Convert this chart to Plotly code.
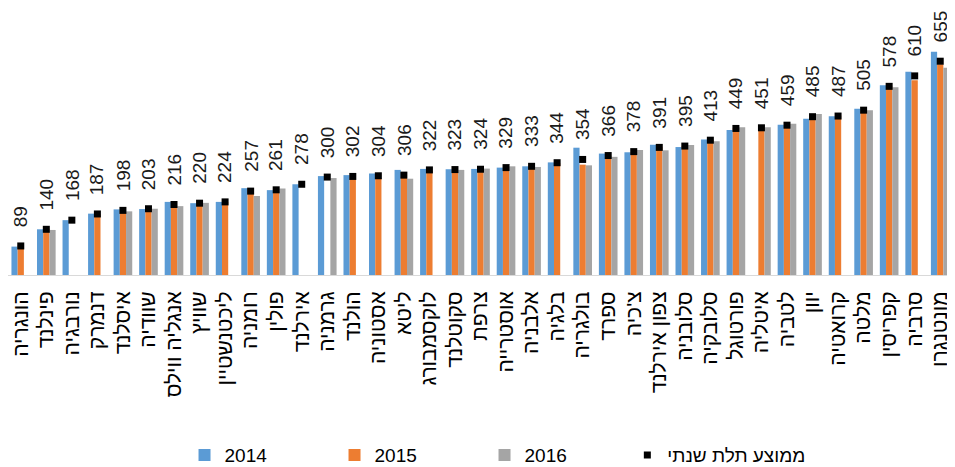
import plotly.graph_objects as go

countries = ["הונגריה", "פינלנד", "נורבגיה", "דנמרק", "איסלנד", "שוודיה", "אנגליה ווילס",
             "שוויץ", "ליכטנשטיין", "רומניה", "פולין", "אירלנד", "גרמניה", "הולנד",
             "אסטוניה", "ליטא", "לוקסמבורג", "סקוטלנד", "צרפת", "אוסטרייה", "אלבניה",
             "בלגיה", "בולגריה", "ספרד", "צ'כיה", "צפון אירלנד", "סלובניה", "סלובקיה",
             "פורטוגל", "איטליה", "לטביה", "יוון", "קרואטיה", "מלטה", "קפריסין",
             "סרביה", "מונטנגרו"]

y2014 = [87, 140, 168, 188, 201, 202, 224, 220, 224, 266, 260, 278, 303, 306, 311, 322, 325,
         324, 325, 329, 333, 345, 390, 372, 376, 399, 392, 415, 444, None, 460, 479, 486,
         509, 581, 623, 684]
y2015 = [91, 142, None, 186, 198, 204, 213, 219, 224, 263, 258, None, None, 298, 297, 301, 319,
         323, 321, 325, 335, 343, 338, 364, 375, 392, 395, 414, 450, 449, 455, 483, 488,
         501, 578, 597, 646]
y2016 = [None, 138, None, None, 195, 203, 211, 221, None, 242, 265, None, 297, None, None, 295,
         None, 322, 326, 333, 331, None, 336, 362, 383, 382, 398, 410, 453, 453, 463, 493,
         None, 505, 575, None, 635]
avg3 = [89, 140, 168, 187, 198, 203, 216, 220, 224, 257, 261, 278, 300, 302, 304, 306, 322,
        323, 324, 329, 333, 344, 354, 366, 378, 391, 395, 413, 449, 451, 459, 485, 487,
        505, 578, 610, 655]

series_names = ["2014", "2015", "2016"]
series_colors = ["#5B9BD5", "#ED7D31", "#A5A5A5"]
avg_name = "ממוצע תלת שנתי"

FONT = "Liberation Sans, Arial, DejaVu Sans, sans-serif"

fig = go.Figure()
for name, vals, col in zip(series_names, [y2014, y2015, y2016], series_colors):
    fig.add_trace(go.Bar(x=countries, y=vals, name=name, legend="legend",
                         marker=dict(color=col, line=dict(width=0))))

fig.add_trace(go.Scatter(x=countries, y=avg3, name=avg_name, mode="markers", legend="legend2",
                         marker=dict(symbol="square", size=7, color="black")))

for c, v in zip(countries, avg3):
    fig.add_annotation(x=c, y=v, text=str(v), showarrow=False, textangle=-90,
                       yanchor="bottom", xanchor="center", yshift=17,
                       font=dict(family=FONT, size=19, color="#1a1a1a"))

legend_common = dict(orientation="h", xref="container", yref="container",
                     y=0.026, xanchor="left", yanchor="middle",
                     font=dict(family=FONT, size=19, color="black"),
                     bgcolor="rgba(0,0,0,0)")

fig.update_layout(
    width=947, height=459, autosize=False,
    margin=dict(l=0, r=2, t=0, b=192, pad=0, autoexpand=False),
    paper_bgcolor="white", plot_bgcolor="white",
    barmode="group", bargap=0.27, bargroupgap=0,
    font=dict(family=FONT, size=16, color="black"),
    showlegend=True,
    legend=dict(x=0.1864, entrywidth=105, entrywidthmode="pixels",
                traceorder="normal", **legend_common),
    legend2=dict(x=0.654, **legend_common),
    xaxis=dict(type="category", showline=True, linecolor="#D9D9D9", linewidth=1,
               range=[-0.5, len(countries) - 0.5],
               tickmode="array", tickvals=countries, ticktext=countries,
               showgrid=False, ticks="", tickangle=-90, automargin=False,
               ticklabelstandoff=7,
               tickfont=dict(family=FONT, size=21, color="black")),
    yaxis=dict(range=[0, 818], visible=False, showgrid=False, zeroline=False,
               automargin=False),
)

fig.write_html("out.html", config={"responsive": False})
